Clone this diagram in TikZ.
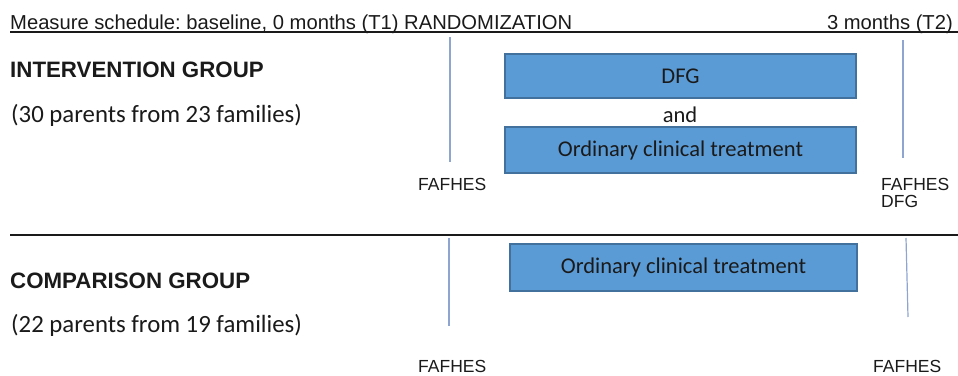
\documentclass[tikz,border=0pt]{standalone}
\usepackage{fontspec}
\setmainfont{Liberation Sans}
\newfontfamily\calibri{Carlito}
\definecolor{boxblue}{HTML}{5B9BD5}
\definecolor{boxedge}{HTML}{41719C}
\definecolor{tickc}{HTML}{8EA5CF}
\definecolor{ink}{HTML}{1A1A1A}
\frenchspacing
\begin{document}
\begin{tikzpicture}[x=1pt,y=-1pt,
  lbl/.style={inner sep=0pt, anchor=base west, text=ink, font=\fontsize{17.5}{20}\selectfont},
  head/.style={inner sep=0pt, anchor=base west, text=ink, font=\fontsize{20.2}{22}\selectfont},
  grp/.style={inner sep=0pt, anchor=base west, text=ink, font=\bfseries\fontsize{22.3}{24}\selectfont},
  cnt/.style={inner sep=0pt, anchor=base west, text=ink, font=\calibri\fontsize{24.8}{28}\selectfont},
  bluebox/.style={draw=boxedge, fill=boxblue, line width=1.2pt, inner sep=0pt, text=ink,
    font=\calibri\fontsize{22.5}{26}\selectfont},
  rule/.style={draw=ink, line width=1.4pt},
  tickline/.style={draw=tickc, line width=1.2pt}]
\useasboundingbox (0,0) rectangle (958,375);
% header
\node[head] (title) at (10,29.5) {Measure schedule: baseline, 0 months (T1) RANDOMIZATION};
\node[head, anchor=base east] (t2) at (953,29.5) {3 months (T2)};
\coordinate (r1a) at (10,32);
\coordinate (r1b) at (958,32);
\draw[rule] (r1a) -- (r1b);
% intervention group
\node[grp] (ig) at (10,77) {INTERVENTION GROUP};
\node[cnt] (ign) at (11,122) {(30 parents from 23 families)};
\node[bluebox, minimum width=351pt, minimum height=44pt] (dfg) at (680.5,76) {DFG};
\node[inner sep=0pt, anchor=base, text=ink, font=\calibri\fontsize{22.5}{26}\selectfont] (and) at (680,122) {and};
\node[bluebox, minimum width=351pt, minimum height=46pt] (oct1) at (680.5,150) {Ordinary clinical treatment};
\coordinate (v1a) at (450,37);
\coordinate (v1b) at (450,162);
\coordinate (v2a) at (903,40);
\coordinate (v2b) at (903,158);
\draw[tickline] (v1a) -- (v1b);
\draw[tickline] (v2a) -- (v2b);
\node[lbl] (f1) at (418,190) {FAFHES};
\node[lbl] (f2) at (881,190) {FAFHES};
\node[lbl] (d2) at (881,207.5) {DFG};
% separator
\coordinate (r2a) at (10,235);
\coordinate (r2b) at (958,235);
\draw[rule] (r2a) -- (r2b);
% comparison group
\node[grp] (cg) at (10,288) {COMPARISON GROUP};
\node[cnt] (cgn) at (11,332) {(22 parents from 19 families)};
\node[bluebox, minimum width=347pt, minimum height=47pt] (oct2) at (683.5,267.5) {Ordinary clinical treatment};
\coordinate (v3a) at (449,238);
\coordinate (v3b) at (449,326);
\coordinate (v4a) at (906,238);
\coordinate (v4b) at (908,317);
\draw[tickline] (v3a) -- (v3b);
\draw[tickline] (v4a) -- (v4b);
\node[lbl] (f3) at (418,372) {FAFHES};
\node[lbl] (f4) at (873,372) {FAFHES};
\end{tikzpicture}
\end{document}
